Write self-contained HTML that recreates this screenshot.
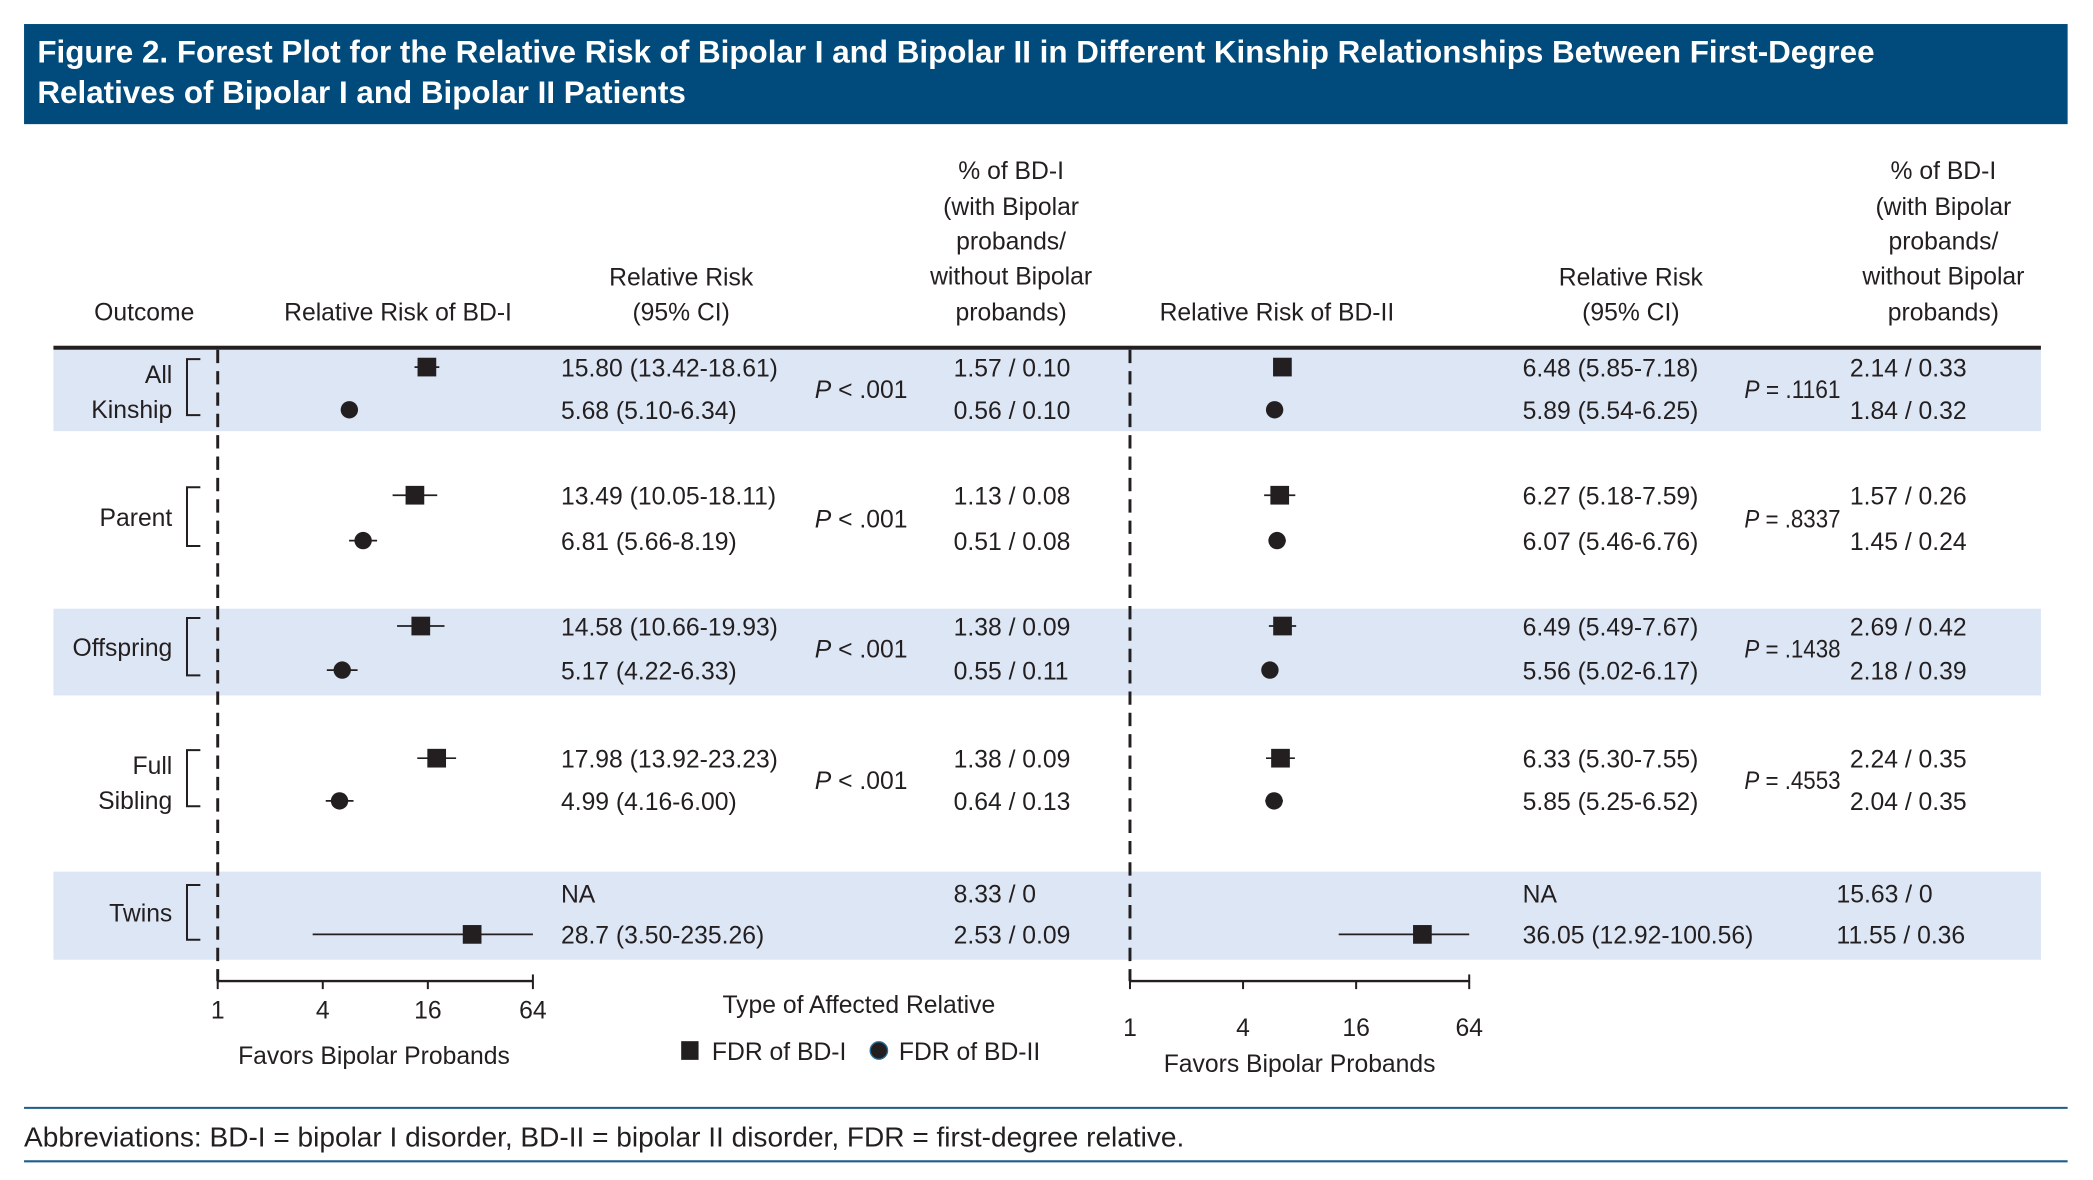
<!DOCTYPE html>
<html><head><meta charset="utf-8"><style>
html,body{margin:0;padding:0;background:#fff}
svg{display:block}
text{font-family:"Liberation Sans",sans-serif;fill:#231f20}
.t{font-size:18.5px}
.h{font-size:18.5px;text-anchor:middle}
</style></head><body>
<svg id="c" width="2093" height="1180" viewBox="0 0 1567 884" preserveAspectRatio="none" xmlns="http://www.w3.org/2000/svg">
<rect x="18" y="18" width="1530" height="75" fill="#004b7c"/>
<text x="28" y="47" style="font-size:23.5px;font-weight:bold;fill:#fff">Figure 2. Forest Plot for the Relative Risk of Bipolar I and Bipolar II in Different Kinship Relationships Between First-Degree</text>
<text x="28" y="77" style="font-size:23.5px;font-weight:bold;fill:#fff">Relatives of Bipolar I and Bipolar II Patients</text>
<g id="bands"></g>
<rect x="40" y="259" width="1488" height="3" fill="#231f20"/>
<g>
<text class="h" x="108" y="240">Outcome</text>
<text class="h" x="298" y="240">Relative Risk of BD-I</text>
<text class="h" x="510" y="214">Relative Risk</text><text class="h" x="510" y="240">(95% CI)</text>
<text class="h" x="757" y="134">% of BD-I</text><text class="h" x="757" y="161">(with Bipolar</text><text class="h" x="757" y="187">probands/</text><text class="h" x="757" y="213">without Bipolar</text><text class="h" x="757" y="240">probands)</text>
<text class="h" x="956" y="240">Relative Risk of BD-II</text>
<text class="h" x="1221" y="214">Relative Risk</text><text class="h" x="1221" y="240">(95% CI)</text>
<text class="h" x="1455" y="134">% of BD-I</text><text class="h" x="1455" y="161">(with Bipolar</text><text class="h" x="1455" y="187">probands/</text><text class="h" x="1455" y="213">without Bipolar</text><text class="h" x="1455" y="240">probands)</text>
</g>
<g id="plot"></g>
<g>
<text class="h" x="643" y="759">Type of Affected Relative</text>
<rect x="510" y="780" width="13" height="14" fill="#231f20"/>
<text class="t" x="533" y="794">FDR of BD-I</text>
<circle cx="658" cy="787" r="6.5" fill="#231f20" stroke="#2a6f9a" stroke-width="1"/>
<text class="t" x="673" y="794">FDR of BD-II</text>
</g>
<text class="h" x="280" y="797">Favors Bipolar Probands</text>
<text class="h" x="973" y="803">Favors Bipolar Probands</text>
<line x1="18" y1="830" x2="1548" y2="830" stroke="#1c5d8c" stroke-width="1.5"/>
<line x1="18" y1="870" x2="1548" y2="870" stroke="#1c5d8c" stroke-width="1.5"/>
<text x="18" y="859" style="font-size:21px">Abbreviations: BD-I = bipolar I disorder, BD-II = bipolar II disorder, FDR = first-degree relative.</text>
</svg>
<script>
const groups = ["All|Kinship","Parent","Offspring","Full|Sibling","Twins"];
const bd1Est = [15.80,13.49,14.58,17.98,null];
const bd1Lo = [13.42,10.05,10.66,13.92,null];
const bd1Hi = [18.61,18.11,19.93,23.23,null];
const bd2Est = [5.68,6.81,5.17,4.99,28.7];
const bd2Lo = [5.10,5.66,4.22,4.16,3.50];
const bd2Hi = [6.34,8.19,6.33,6.00,235.26];
const r1Est = [6.48,6.27,6.49,6.33,null];
const r1Lo = [5.85,5.18,5.49,5.30,null];
const r1Hi = [7.18,7.59,7.67,7.55,null];
const r2Est = [5.89,6.07,5.56,5.85,36.05];
const r2Lo = [5.54,5.46,5.02,5.25,12.92];
const r2Hi = [6.25,6.76,6.17,6.52,100.56];
const leftRR1 = ["15.80 (13.42-18.61)","13.49 (10.05-18.11)","14.58 (10.66-19.93)","17.98 (13.92-23.23)","NA"];
const leftRR2 = ["5.68 (5.10-6.34)","6.81 (5.66-8.19)","5.17 (4.22-6.33)","4.99 (4.16-6.00)","28.7 (3.50-235.26)"];
const leftP = ["< .001","< .001","< .001","< .001",""];
const leftPct1 = ["1.57 / 0.10","1.13 / 0.08","1.38 / 0.09","1.38 / 0.09","8.33 / 0"];
const leftPct2 = ["0.56 / 0.10","0.51 / 0.08","0.55 / 0.11","0.64 / 0.13","2.53 / 0.09"];
const rightRR1 = ["6.48 (5.85-7.18)","6.27 (5.18-7.59)","6.49 (5.49-7.67)","6.33 (5.30-7.55)","NA"];
const rightRR2 = ["5.89 (5.54-6.25)","6.07 (5.46-6.76)","5.56 (5.02-6.17)","5.85 (5.25-6.52)","36.05 (12.92-100.56)"];
const rightP = ["= .1161","= .8337","= .1438","= .4553",""];
const rightPct1 = ["2.14 / 0.33","1.57 / 0.26","2.69 / 0.42","2.24 / 0.35","15.63 / 0"];
const rightPct2 = ["1.84 / 0.32","1.45 / 0.24","2.18 / 0.39","2.04 / 0.35","11.55 / 0.36"];
const ticks = [1,4,16,64];
const tickLabels = ["1","4","16","64"];

const NS="http://www.w3.org/2000/svg";
const plot=document.getElementById('plot'), bands=document.getElementById('bands');
function mk(tag,attrs,parent,txt){const e=document.createElementNS(NS,tag);for(const k in attrs)e.setAttribute(k,attrs[k]);if(txt!==undefined)e.textContent=txt;(parent||plot).appendChild(e);return e;}
const rowY1=[275,371,469,568,669], rowY2=[307,405,502,600,700];
const bandTop=[262,null,456,null,653], bandBot=[323,null,521,null,719];
const xL=v=>163+Math.log2(Math.min(Math.max(v,1),64))*39.33;
const xR=v=>846+Math.log2(Math.min(Math.max(v,1),64))*42.33;
bandTop.forEach((t,i)=>{if(t===null)return;const r=mk('rect',{x:40,y:t,width:1488,height:bandBot[i]-t,fill:'#dce6f4'},bands);

});
[163,846].forEach((x,i)=>{const l=mk('line',{x1:x,y1:262,x2:x,y2:735,stroke:'#231f20','stroke-width':2.2,'stroke-dasharray':'10,6'});

});
function marker(sx,est,lo,hi,y,sq,name){if(est===null)return;
const g=mk('g',{});


mk('line',{x1:sx(lo),y1:y,x2:sx(hi),y2:y,stroke:'#231f20','stroke-width':1.3},g);
if(sq)mk('rect',{x:sx(est)-7,y:y-7,width:14,height:14,fill:'#231f20'},g);
else mk('circle',{cx:sx(est),cy:y,r:6.5,fill:'#231f20'},g);}
groups.forEach((gname,i)=>{
  const y1=rowY1[i], y2=rowY2[i], ym=(y1+y2)/2;
  const parts=gname.split('|');
  const lab=mk('text',{class:'t','text-anchor':'end',x:129,y:parts.length>1?ym-4:ym+6});
  
  
  if(parts.length>1){mk('tspan',{x:129},lab,parts[0]);mk('tspan',{x:129,dy:26},lab,parts[1]);}else lab.textContent=parts[0];
  const br=mk('path',{d:`M150 ${y1-6} H140 V${y2+4} H150`,fill:'none',stroke:'#231f20','stroke-width':1.5});
  
  
  const twin=(i===groups.length-1);
  marker(xL,bd1Est[i],bd1Lo[i],bd1Hi[i],y1,true,'bd1-fdr1-marker-'+i);
  marker(xL,bd2Est[i],bd2Lo[i],bd2Hi[i],y2,twin,'bd1-fdr2-marker-'+i);
  marker(xR,r1Est[i],r1Lo[i],r1Hi[i],y1,true,'bd2-fdr1-marker-'+i);
  marker(xR,r2Est[i],r2Lo[i],r2Hi[i],y2,twin,'bd2-fdr2-marker-'+i);
  const cells=[[420,y1,leftRR1[i]],[420,y2,leftRR2[i]],[714,y1,leftPct1[i]],[714,y2,leftPct2[i]],
    [1140,y1,rightRR1[i]],[1140,y2,rightRR2[i]],[twin?1375:1385,y1,rightPct1[i]],[twin?1375:1385,y2,rightPct2[i]]];
  cells.forEach((c,j)=>{const t=mk('text',{class:'t',x:c[0],y:c[1]+7},plot,c[2]);
    
    });
  if(leftP[i]){const p=mk('text',{class:'t',x:610,y:ym+7});
    
    
    mk('tspan',{'font-style':'italic'},p,'P');mk('tspan',{},p,' '+leftP[i]);}
  if(rightP[i]){const p=mk('text',{class:'t',x:1306,y:ym+7,textLength:72,lengthAdjust:'spacingAndGlyphs'});
    
    
    mk('tspan',{'font-style':'italic'},p,'P');mk('tspan',{},p,' '+rightP[i]);}
});
[[xL,735,757,'left'],[xR,735,770,'right']].forEach(([sx,ay,ly,nm])=>{
  const g=mk('g',{});
  
  
  mk('line',{x1:sx(1),y1:ay,x2:sx(64),y2:ay,stroke:'#231f20','stroke-width':1.8},g);
  ticks.forEach((t,k)=>{const end=(k===0||k===ticks.length-1);
    mk('line',{x1:sx(t),y1:end?ay-5:ay,x2:sx(t),y2:ay+6,stroke:'#231f20','stroke-width':1.5},g);
    mk('text',{class:'h',x:sx(t),y:ly+6},g,tickLabels[k]);});
});
</script>
</body></html>
